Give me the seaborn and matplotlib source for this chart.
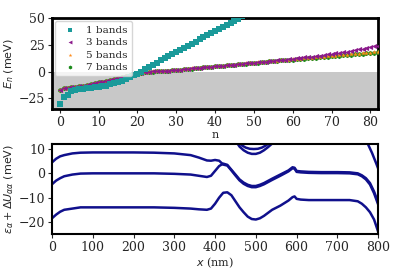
import numpy as np
import pandas as pd
import matplotlib
matplotlib.use("Agg")
import matplotlib.pyplot as plt
import seaborn as sns

# ---------------- data: top panel ----------------
band_1 = [-30, -23.5, -21.5, -18.5, -17, -16.5, -16, -15.5, -15, -14.5, -14, -13.5, -13, -12,
          -11, -10, -9, -7, -5, -3.5, -2, 0, 2, 4, 6.5, 8.5, 10.5, 12.5, 14.5, 16.5, 18,
          20, 22, 24, 26, 28, 30, 32, 34, 36, 37.5, 39.5, 41.5, 43.5, 45.5, 47.5, 49.5, 51.5]
band_3 = [-17.5, -15.5, -15, -14.5, -14, -13.5, -13, -12.5, -11.5, -11, -10, -9.5, -8.5, -7.5,
          -6.5, -5.5, -5, -4, -3.5, -2.5, -1.5, -1, -0.5, 0, 0.2, 0.4, 0.6, 0.8, 1, 1.2, 1.5,
          1.8, 2.2, 2.6, 3, 3.3, 3.6, 4, 4.3, 4.6, 5, 5.3, 5.6, 6, 6.3, 6.6, 7, 7.3, 7.6, 8,
          8.3, 8.6, 9, 9.3, 9.6, 10, 10.4, 10.8, 11.2, 11.6, 12, 12.4, 12.8, 13.2, 13.6, 14,
          14.5, 15, 15.5, 16, 16.5, 17, 17.5, 18.1, 18.7, 19.3, 20, 20.7, 21.4, 22.1, 22.8,
          23.5, 24.2]
band_5 = [-17.5, -15.5, -15, -14.5, -14, -13.5, -13, -12.5, -11.5, -11, -10, -9.5, -8.5, -7.5,
          -6.5, -5.5, -5, -4, -3.5, -2.5, -1.5, -1, -0.5, 0, 0.2, 0.4, 0.6, 0.8, 1, 1.2, 1.5,
          1.8, 2.2, 2.6, 3, 3.3, 3.6, 4, 4.3, 4.6, 5, 5.3, 5.6, 6, 6.3, 6.6, 7, 7.3, 7.6, 8,
          8.3, 8.6, 9, 9.3, 9.6, 10, 10.3, 10.6, 11, 11.3, 11.6, 11.9, 12.2, 12.5, 12.8, 13.1,
          13.4, 13.7, 14, 14.3, 14.6, 14.9, 15.2, 15.5, 15.8, 16.1, 16.4, 16.7, 17, 17.3, 17.6,
          17.9, 18.2]
band_7 = [-17.6, -15.6, -15.1, -14.6, -14.1, -13.6, -13.1, -12.6, -11.6, -11.1, -10.1, -9.6,
          -8.6, -7.6, -6.6, -5.6, -5.1, -4.1, -3.6, -2.6, -1.6, -1.1, -0.6, -0.1, 0.1, 0.3, 0.5,
          0.7, 0.9, 1.1, 1.4, 1.7, 2.1, 2.5, 2.9, 3.2, 3.5, 3.9, 4.2, 4.5, 4.9, 5.2, 5.5, 5.9,
          6.2, 6.5, 6.9, 7.2, 7.5, 7.9, 8.2, 8.5, 8.9, 9.2, 9.5, 9.8, 10.1, 10.4, 10.7, 11,
          11.3, 11.6, 11.9, 12.2, 12.5, 12.8, 13.1, 13.4, 13.7, 14, 14.3, 14.6, 14.9, 15.2,
          15.5, 15.8, 16.1, 16.4, 16.7, 17, 17.3, 17.6, 17.9]
band_labels = ["1 bands", "3 bands", "5 bands", "7 bands"]

# ---------------- data: bottom panel ----------------
x_main = [0, 10, 20, 30, 50, 70, 100, 150, 200, 250, 300, 340, 360, 380, 390, 400, 410, 420,
          430, 440, 450, 460, 470, 480, 490, 500, 510, 520, 540, 560, 580, 590, 595, 600, 610,
          630, 660, 700, 730, 750, 760, 770, 780, 790, 800]
curve_low = [-18.5, -17, -15.8, -15, -14.5, -14, -14, -14, -14, -14, -14.2, -14.5, -14.8, -15,
             -14.5, -12.5, -10, -8, -7.8, -9, -11.5, -14, -16, -17.8, -18.8, -19, -18.5, -17.5,
             -15, -13.3, -11.2, -9.8, -9.5, -10.5, -10.8, -11, -11, -11, -11, -11.5, -12.5,
             -14, -16, -19, -24]
curve_mid = [-4.5, -3, -2, -1.2, -0.5, -0.1, 0, 0, 0, 0, -0.2, -0.5, -1, -1.5, -1, 1, 3, 4,
             3.5, 1.5, -0.5, -2.5, -3.8, -4.7, -5.2, -5.2, -4.7, -4, -2.2, -0.5, 1.2, 2.5,
             2.3, 1, 0.8, 0.6, 0.5, 0.5, 0.4, 0, -0.8, -2, -4, -7.5, -12]
curve_up = [4.5, 6, 7, 7.5, 8.2, 8.5, 8.6, 8.6, 8.6, 8.5, 8.2, 7.5, 6.5, 5.3, 5.2, 5.5, 5.2, 3.6,
            3.2, 1.2, -0.9, -2.9, -4.3, -5.2, -5.7, -5.7, -5.2, -4.5, -2.7, -1, 0.8, 2.1, 1.9,
            0.6, 0.4, 0.2, 0.1, 0.1, 0, -0.4, -1.2, -2.5, -4.6, -8.2, -12.8]
x_u1 = [450, 460, 470, 480, 490, 500, 510, 520, 530, 545]
curve_u1 = [13.5, 11, 9.5, 8.5, 8, 8, 8.5, 9.5, 10.8, 13]
x_u2 = [455, 465, 475, 485, 495, 505, 515, 525, 540]
curve_u2 = [13.5, 11.6, 10.6, 10.1, 10, 10.1, 10.6, 11.5, 13.5]
x_edge = [765, 775, 780, 785, 790, 795, 800]
curve_edge = [14, 12, 10.2, 8.4, 6.3, 4.2, 2]

# ---------------- figure ----------------
sns.set_theme(style="white")
plt.rcParams["font.family"] = ["DejaVu Serif"]
plt.rcParams["mathtext.fontset"] = "dejavusans"

fig = plt.figure(figsize=(4.16, 2.70), dpi=100)
ax1 = fig.add_axes([0.125, 0.596, 0.784, 0.337])
ax2 = fig.add_axes([0.125, 0.133, 0.784, 0.333])

ax1.axhspan(-40, 0, color="#c8c8c8", lw=0, zorder=0)
palette = {"1 bands": "#1a9a9a", "3 bands": "#8b1a8b", "5 bands": "#ff8c1a", "7 bands": "#1a8a1a"}
markers = {"1 bands": "s", "3 bands": "<", "5 bands": "*", "7 bands": "h"}
series = dict(zip(band_labels, [band_1, band_3, band_5, band_7]))
# draw in reverse order so fewer bands lie on top, as in the reference
for lab in reversed(band_labels):
    vals = series[lab]
    d = pd.DataFrame({"n": np.arange(len(vals)), "E": vals})
    sns.scatterplot(data=d, x="n", y="E", color=palette[lab], marker=markers[lab],
                    s=14, linewidth=0, ax=ax1, zorder=3, label=lab)
handles, labels = ax1.get_legend_handles_labels()
order = [labels.index(l) for l in band_labels]
ax1.set_xlim(-2, 82)
ax1.set_ylim(-35, 50)
ax1.set_yticks([-25, 0, 25, 50])
ax1.set_xticks([0, 10, 20, 30, 40, 50, 60, 70, 80])
ax1.set_xlabel("n", fontsize=8, labelpad=1)
ax1.set_ylabel("$E_n$ (meV)", fontsize=8, family="DejaVu Sans", labelpad=2)
leg = ax1.legend([handles[i] for i in order], [labels[i] for i in order],
                 loc="upper left", fontsize=7.5, frameon=True, markerscale=0.75,
                 handletextpad=0.6, borderpad=0.4, labelspacing=0.3,
                 bbox_to_anchor=(0.0, 1.0), borderaxespad=0.3)
leg.get_frame().set_edgecolor("#cccccc")
for sp in ax1.spines.values():
    sp.set_linewidth(2)
    sp.set_color("black")

seg = []
for name, xs, ys in [("low", x_main, curve_low), ("mid", x_main, curve_mid),
                     ("up", x_main, curve_up), ("u1", x_u1, curve_u1),
                     ("u2", x_u2, curve_u2), ("edge", x_edge, curve_edge)]:
    for xx, yy in zip(xs, ys):
        seg.append({"x": xx, "y": yy, "curve": name})
df_bot = pd.DataFrame(seg)
sns.lineplot(data=df_bot, x="x", y="y", units="curve", estimator=None, color="#10108c",
             lw=1.8, ax=ax2)
ax2.set_xlim(0, 800)
ax2.set_ylim(-25, 12)
ax2.set_xticks(range(0, 801, 100))
ax2.set_yticks([-20, -10, 0, 10])
ax2.set_xlabel("$x$ (nm)", fontsize=8, labelpad=1)
ax2.set_ylabel(r"$\epsilon_\alpha + \Delta U_{\alpha\alpha}$ (meV)", fontsize=8,
               family="DejaVu Sans", labelpad=2)
for sp in ax2.spines.values():
    sp.set_linewidth(1.5)
    sp.set_color("black")

for ax in (ax1, ax2):
    ax.tick_params(axis="both", labelsize=9, length=3, width=0.8, direction="out",
                   bottom=True, left=True, pad=2)

fig.savefig("out.png", dpi=100)
